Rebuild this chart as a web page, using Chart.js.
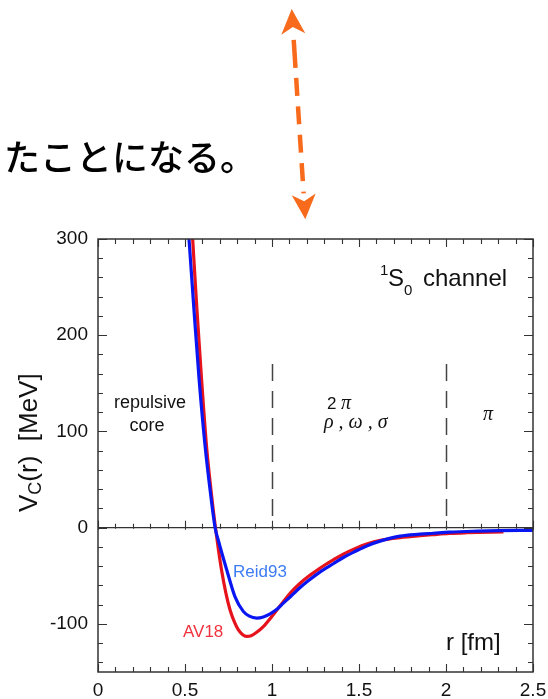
<!DOCTYPE html>
<html><head><meta charset="utf-8">
<script src="https://cdn.jsdelivr.net/npm/chart.js@4.4.1/dist/chart.umd.min.js"></script>
<style>html,body{margin:0;padding:0;background:#fff;overflow:hidden}canvas{display:block}</style>
</head><body>
<canvas id="c" width="548" height="699"></canvas>
<script>
// ---- data ----
const reidR = [0.500, 0.523, 0.551, 0.582, 0.616, 0.645, 0.673, 0.691, 0.740, 0.787, 0.835, 0.870, 0.912, 0.950, 0.989, 1.030, 1.065, 1.110, 1.160, 1.210, 1.257, 1.310, 1.352, 1.410, 1.480, 1.544, 1.630, 1.736, 1.850, 1.927, 2.020, 2.180, 2.310, 2.500];
const reidV = [357, 300, 228, 152, 84, 38, 0, -12.8, -44, -71.6, -87, -92, -94, -92.8, -89.5, -84.5, -78.5, -71, -62.5, -55, -48.5, -42, -37.5, -31, -24.5, -19, -13.5, -8.8, -6.8, -5.8, -4.6, -3.6, -3.1, -2.8];
const av18R = [0.520, 0.544, 0.568, 0.596, 0.624, 0.650, 0.675, 0.690, 0.710, 0.735, 0.759, 0.785, 0.806, 0.830, 0.854, 0.880, 0.910, 0.950, 1.000, 1.030, 1.065, 1.110, 1.160, 1.210, 1.257, 1.310, 1.352, 1.410, 1.480, 1.544, 1.630, 1.736, 1.850, 1.927, 2.020, 2.118, 2.330];
const av18V = [370, 300, 228, 152, 84, 38, 0, -20, -44, -68, -85.5, -98.5, -106, -111, -113, -112.3, -109, -102.8, -92, -85, -77, -67, -58, -50.5, -44.5, -38, -33.5, -27.5, -21.5, -17, -13, -10.3, -8.3, -7.2, -6, -5.3, -4.3];
const xTicks = [0, 0.5, 1, 1.5, 2, 2.5];
const xTickLabels = ['0', '0.5', '1', '1.5', '2', '2.5'];
const yTicks = [-100, 0, 100, 200, 300];
const regionBounds = [1, 2];      // r [fm] of dashed separators
const regionTopV = 170;           // MeV where separators start

const SANS = '"Liberation Sans", Arial, Helvetica, sans-serif';
const SERIF = '"Liberation Serif", "Times New Roman", serif';
const AX = '#333';

const decor = {
  id: 'decor',
  beforeDatasetsDraw(chart) {
    const {ctx, chartArea: a, scales: {x, y}} = chart;
    const y0 = y.getPixelForValue(0);
    ctx.save();
    ctx.strokeStyle = AX; ctx.lineWidth = 1.3;
    ctx.beginPath(); ctx.moveTo(a.left, y0); ctx.lineTo(a.right, y0); ctx.stroke();
    ctx.lineWidth = 1.1;
    ctx.beginPath();
    for (let i = 0; i <= 25; i++) {
      const px = Math.round(x.getPixelForValue(i / 10)) + 0.5;
      const major = i % 5 === 0;
      ctx.moveTo(px, y0 + (major ? 2 : 1)); ctx.lineTo(px, y0 - (major ? 7 : 4));
    }
    ctx.stroke();
    // dashed separators
    ctx.setLineDash([17, 10]); ctx.lineWidth = 1.5; ctx.strokeStyle = '#444';
    regionBounds.forEach(r => {
      const px = Math.round(x.getPixelForValue(r)) + 0.5;
      ctx.beginPath(); ctx.moveTo(px, y.getPixelForValue(regionTopV)); ctx.lineTo(px, y0); ctx.stroke();
    });
    ctx.restore();
  },
  afterDatasetsDraw(chart) {
    const {ctx, chartArea: a, scales: {x, y}} = chart;
    ctx.save();
    // frame
    ctx.strokeStyle = AX; ctx.lineWidth = 1.5;
    ctx.strokeRect(a.left, a.top, a.right - a.left, a.bottom - a.top);
    // inward ticks
    ctx.lineWidth = 1.1;
    ctx.beginPath();
    for (let i = 0; i <= 25; i++) {
      const px = Math.round(x.getPixelForValue(i / 10)) + 0.5;
      const major = i % 5 === 0;
      const L = major ? 8 : 5;
      ctx.moveTo(px, a.bottom); ctx.lineTo(px, a.bottom - L);
      ctx.moveTo(px, a.top); ctx.lineTo(px, a.top + L);
    }
    for (let v = -140; v <= 300; v += 20) {
      const py = Math.round(y.getPixelForValue(v)) + 0.5;
      const major = v % 100 === 0;
      const L = major ? 9 : 5;
      ctx.moveTo(a.left, py); ctx.lineTo(a.left + L, py);
      ctx.moveTo(a.right, py); ctx.lineTo(a.right - L, py);
    }
    ctx.stroke();

    ctx.fillStyle = '#111'; ctx.textBaseline = 'alphabetic'; ctx.textAlign = 'left';
    // 1S0 channel
    ctx.font = `15px ${SANS}`; ctx.fillText('1', 380, 275);
    ctx.font = `24px ${SANS}`; ctx.fillText('S', 388, 286);
    ctx.font = `15px ${SANS}`; ctx.fillText('0', 404, 295);
    ctx.font = `24px ${SANS}`; ctx.fillText('channel', 423, 286);
    // repulsive core
    ctx.textAlign = 'center';
    ctx.font = `18px ${SANS}`;
    ctx.fillText('repulsive', 150, 408);
    ctx.fillText('core', 147, 431);
    // 2 pi / rho omega sigma / pi
    ctx.textAlign = 'left';
    ctx.font = `17px ${SANS}`; ctx.fillText('2', 327, 409);
    ctx.font = `italic 20px ${SERIF}`; ctx.fillText('π', 341, 409);
    ctx.fillText('ρ , ω , σ', 324, 428);
    ctx.fillText('π', 483, 420);
    // r [fm]
    ctx.fillStyle = '#111'; ctx.font = `24px ${SANS}`; ctx.fillText('r [fm]', 446, 650);
    // curve labels
    ctx.font = `17px ${SANS}`;
    ctx.fillStyle = '#3d7cf4'; ctx.fillText('Reid93', 233, 577);
    ctx.fillStyle = '#f0323e'; ctx.fillText('AV18', 183, 637);

    // y-axis title
    ctx.save();
    ctx.fillStyle = '#111';
    ctx.translate(37, 512); ctx.rotate(-Math.PI / 2);
    let cx = 0;
    ctx.font = `26px ${SANS}`; ctx.fillText('V', cx, 0); cx += ctx.measureText('V').width;
    ctx.font = `18px ${SANS}`; ctx.fillText('C', cx, 4); cx += ctx.measureText('C').width;
    ctx.font = `26px ${SANS}`; ctx.fillText('(r)  [MeV]', cx, 0);
    ctx.restore();

    // Japanese text
    ctx.fillStyle = '#000';
    ctx.font = '500 36px "Noto Sans CJK JP", sans-serif';
    ctx.textBaseline = 'middle';
    ctx.fillText('たことになる。', 4, 157);

    // orange dashed double arrow
    const tip1 = [291.7, 9], tip2 = [305.3, 219.3];
    const dx = tip2[0] - tip1[0], dy = tip2[1] - tip1[1];
    const len = Math.hypot(dx, dy), ux = dx / len, uy = dy / len;
    const nx = -uy, ny = ux;
    const col = '#f86b1c';
    ctx.strokeStyle = col; ctx.fillStyle = col; ctx.lineWidth = 4.5; ctx.lineCap = 'butt';
    ctx.setLineDash([28, 10, 18, 10.5, 18, 10.5, 18, 10.5, 18, 10.5, 18, 10]);
    ctx.beginPath();
    ctx.moveTo(tip1[0] + ux * 31, tip1[1] + uy * 31);
    ctx.lineTo(tip1[0] + ux * (len - 26), tip1[1] + uy * (len - 26));
    ctx.stroke();
    ctx.setLineDash([]);
    const head = (tx, ty, sx, sy) => {
      const L = 25, W = 12, N = 18;
      ctx.beginPath();
      ctx.moveTo(tx, ty);
      ctx.lineTo(tx + sx * L + nx * W, ty + sy * L + ny * W);
      ctx.lineTo(tx + sx * N, ty + sy * N);
      ctx.lineTo(tx + sx * L - nx * W, ty + sy * L - ny * W);
      ctx.closePath(); ctx.fill();
    };
    head(tip1[0], tip1[1], ux, uy);
    head(tip2[0], tip2[1], -ux, -uy);
    ctx.restore();
  }
};

new Chart(document.getElementById('c'), {
  type: 'line',
  data: {
    datasets: [
      { label: 'Reid93', data: reidR.map((r, i) => ({x: r, y: reidV[i]})),
        borderColor: '#0a16f2', borderWidth: 3.2, pointRadius: 0, fill: false, cubicInterpolationMode: 'monotone' },
      { label: 'AV18', data: av18R.map((r, i) => ({x: r, y: av18V[i]})),
        borderColor: '#e6121c', borderWidth: 3.2, pointRadius: 0, fill: false, cubicInterpolationMode: 'monotone' }
    ]
  },
  options: {
    responsive: false, animation: false, devicePixelRatio: 1,
    layout: {padding: {top: 239, right: 15, left: 0, bottom: 0}},
    plugins: {legend: {display: false}, tooltip: {enabled: false}},
    scales: {
      x: {
        type: 'linear', min: 0, max: 2.5,
        grid: {display: false, drawTicks: false}, border: {display: false},
        ticks: {padding: 7, color: '#111', font: {family: SANS, size: 19}, maxRotation: 0, autoSkip: false,
          callback: (v) => { const i = xTicks.indexOf(v); return i >= 0 ? xTickLabels[i] : ''; }},
        afterBuildTicks: s => { s.ticks = xTicks.map(v => ({value: v})); },
        afterFit: s => { s.height = 27; s.paddingLeft = 0; s.paddingRight = 0; }
      },
      y: {
        type: 'linear', min: -150, max: 300,
        grid: {display: false, drawTicks: false}, border: {display: false},
        ticks: {padding: 10, color: '#111', font: {family: SANS, size: 19}, autoSkip: false},
        afterBuildTicks: s => { s.ticks = yTicks.map(v => ({value: v})); },
        afterFit: s => { s.width = 98; s.paddingTop = 0; s.paddingBottom = 0; }
      }
    }
  },
  plugins: [decor]
});
</script>
</body></html>
